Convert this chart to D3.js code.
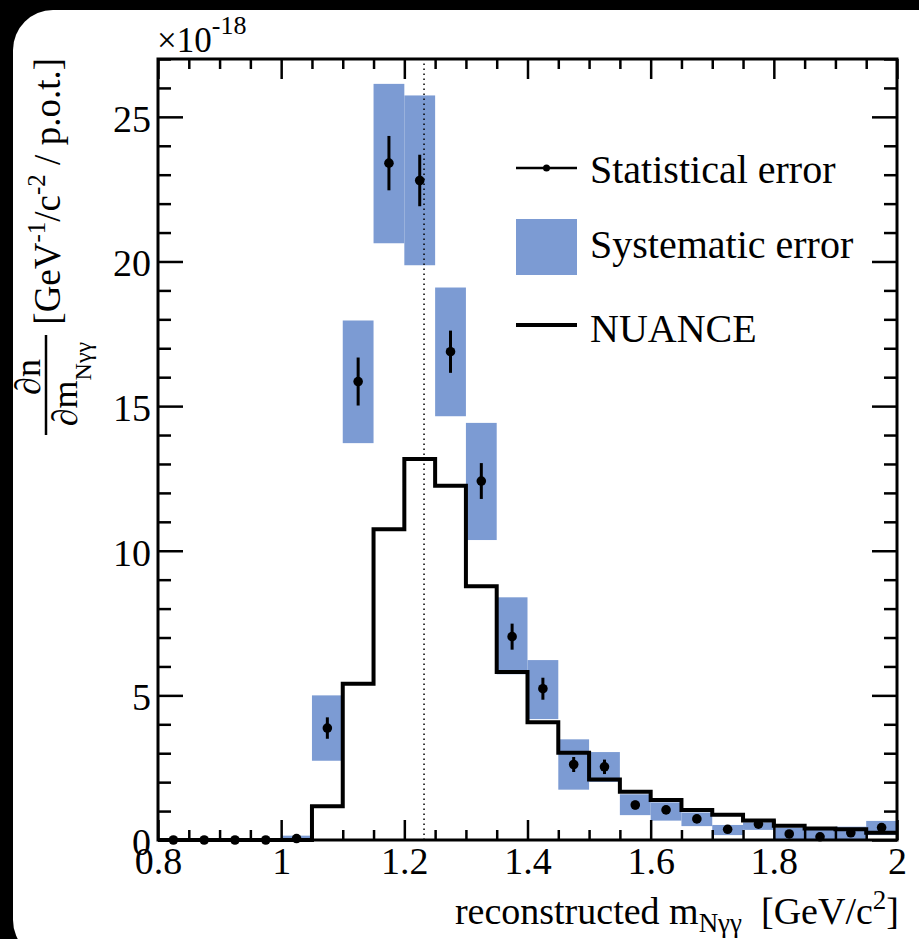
<!DOCTYPE html>
<html>
<head>
<meta charset="utf-8">
<script src="https://cdn.jsdelivr.net/npm/d3@7"></script>
<style>
  html, body { margin: 0; padding: 0; background: #000; }
  svg { display: block; }
  text { font-family: "Liberation Serif", "Times New Roman", serif; fill: #000; }
</style>
</head>
<body>
<svg id="chart" width="919" height="939"></svg>
<script>
// bin edges of the reconstructed mass histogram (GeV/c^2)
const binEdges = [0.80, 0.85, 0.90, 0.95, 1.00, 1.05, 1.10, 1.15, 1.20, 1.25, 1.30, 1.35,
  1.40, 1.45, 1.50, 1.55, 1.60, 1.65, 1.70, 1.75, 1.80, 1.85, 1.90, 1.95, 2.00];

// measured values (x1e-18) and errors, one per bin
const dataValues = [0, 0, 0, 0, 0.05, 3.87, 15.85, 23.40, 22.80, 16.88, 12.41, 7.03,
  5.23, 2.61, 2.53, 1.21, 1.04, 0.73, 0.37, 0.55, 0.21, 0.11, 0.25, 0.43];
const statErr = [0, 0, 0, 0, 0.05, 0.37, 0.83, 0.94, 0.89, 0.73, 0.62, 0.45,
  0.38, 0.26, 0.25, 0.15, 0.14, 0.12, 0.10, 0.10, 0.08, 0.06, 0.08, 0.10];
const sysLow = [null, null, null, null, 0, 2.74, 13.72, 20.63, 19.87, 14.65, 10.37, 5.73,
  4.18, 1.74, 2.01, 0.86, 0.67, 0.48, 0.17, 0.35, 0.00, 0.00, 0.02, 0.17];
const sysHigh = [null, null, null, null, 0.15, 5.00, 17.96, 26.14, 25.74, 19.10, 14.42, 8.39,
  6.22, 3.48, 3.04, 1.58, 1.30, 0.95, 0.52, 0.61, 0.42, 0.35, 0.46, 0.66];

// NUANCE prediction
const nuance = [0, 0, 0, 0, 0, 1.17, 5.40, 10.74, 13.17, 12.25, 8.77, 5.81,
  4.07, 3.02, 2.09, 1.67, 1.38, 1.04, 0.87, 0.67, 0.49, 0.40, 0.37, 0.25];

const xTicks = [0.8, 1.0, 1.2, 1.4, 1.6, 1.8, 2.0];
const xTickLabels = ["0.8", "1", "1.2", "1.4", "1.6", "1.8", "2"];
const yTicks = [0, 5, 10, 15, 20, 25];
const deltaMass = 1.232;
const legendItems = ["Statistical error", "Systematic error", "NUANCE"];

const sysColor = "#7c9bd3";
const svg = d3.select("#chart");

// card
svg.append("rect").attr("x", 13).attr("y", 10).attr("width", 950).attr("height", 950)
  .attr("rx", 40).attr("fill", "#fff");

const x = d3.scaleLinear().domain([0.8, 2.0]).range([158, 897]);
const y = d3.scaleLinear().domain([0, 27]).range([840, 59]);

const bins = dataValues.map((v, i) => ({
  lo: binEdges[i], hi: binEdges[i + 1], c: (binEdges[i] + binEdges[i + 1]) / 2,
  v, err: statErr[i], sLo: sysLow[i], sHi: sysHigh[i]
}));

// systematic boxes
svg.append("g").selectAll("rect")
  .data(bins.filter(d => d.sLo !== null))
  .join("rect")
  .attr("x", d => x(d.lo))
  .attr("width", d => x(d.hi) - x(d.lo))
  .attr("y", d => y(d.sHi))
  .attr("height", d => y(d.sLo) - y(d.sHi))
  .attr("fill", sysColor);

// delta resonance line
svg.append("line")
  .attr("x1", x(deltaMass)).attr("x2", x(deltaMass))
  .attr("y1", y(0)).attr("y2", y(27))
  .attr("stroke", "#000").attr("stroke-width", 1.5).attr("stroke-dasharray", "1.5,3.5");

// NUANCE histogram
const stepPts = nuance.map((v, i) => [binEdges[i], v]);
stepPts.push([binEdges[binEdges.length - 1], nuance[nuance.length - 1]]);
svg.append("path")
  .attr("d", d3.line().x(d => x(d[0])).y(d => y(d[1])).curve(d3.curveStepAfter)(stepPts))
  .attr("fill", "none").attr("stroke", "#000").attr("stroke-width", 4)
  .attr("stroke-linejoin", "miter");

// data points with statistical errors
const pts = svg.append("g");
pts.selectAll("line")
  .data(bins.filter(d => d.err > 0.12))
  .join("line")
  .attr("x1", d => x(d.c)).attr("x2", d => x(d.c))
  .attr("y1", d => y(d.v - d.err)).attr("y2", d => y(d.v + d.err))
  .attr("stroke", "#000").attr("stroke-width", 3);
pts.selectAll("circle")
  .data(bins)
  .join("circle")
  .attr("cx", d => x(d.c)).attr("cy", d => y(d.v)).attr("r", 4.8)
  .attr("fill", "#000");

// axes (ticks inside frame, ROOT style)
const xMinor = d3.range(0, 25).map(i => binEdges[i]).filter(v => !xTicks.some(t => Math.abs(t - v) < 1e-6));
const yMinor = d3.range(0, 28).filter(v => v % 5 !== 0);
const fmtX = d => xTickLabels[xTicks.indexOf(d)];

function styleAxis(g) {
  g.select(".domain").remove();
  g.selectAll("line").attr("stroke", "#000").attr("stroke-width", 2.5);
  g.selectAll("text").attr("font-size", 38).attr("font-family", "Liberation Serif");
}

svg.append("g").attr("transform", `translate(0,${y(0)})`)
  .call(d3.axisBottom(x).tickValues(xTicks).tickFormat(fmtX).tickSize(-20).tickPadding(7))
  .call(styleAxis);
svg.append("g").attr("transform", `translate(0,${y(0)})`)
  .call(d3.axisBottom(x).tickValues(xMinor).tickFormat("").tickSize(-10))
  .call(styleAxis);
svg.append("g").attr("transform", `translate(0,${y(27)})`)
  .call(d3.axisTop(x).tickValues(xTicks).tickFormat("").tickSize(-20))
  .call(styleAxis);
svg.append("g").attr("transform", `translate(0,${y(27)})`)
  .call(d3.axisTop(x).tickValues(xMinor).tickFormat("").tickSize(-10))
  .call(styleAxis);

svg.append("g").attr("transform", `translate(${x(0.8)},0)`)
  .call(d3.axisLeft(y).tickValues(yTicks).tickFormat(d3.format("d")).tickSize(-25).tickPadding(7))
  .call(styleAxis)
  .selectAll("text").attr("dy", "0.38em");
svg.append("g").attr("transform", `translate(${x(0.8)},0)`)
  .call(d3.axisLeft(y).tickValues(yMinor).tickFormat("").tickSize(-13))
  .call(styleAxis);
svg.append("g").attr("transform", `translate(${x(2.0)},0)`)
  .call(d3.axisRight(y).tickValues(yTicks).tickFormat("").tickSize(-25))
  .call(styleAxis);
svg.append("g").attr("transform", `translate(${x(2.0)},0)`)
  .call(d3.axisRight(y).tickValues(yMinor).tickFormat("").tickSize(-13))
  .call(styleAxis);

// frame
svg.append("rect")
  .attr("x", x(0.8)).attr("y", y(27))
  .attr("width", x(2.0) - x(0.8)).attr("height", y(0) - y(27))
  .attr("fill", "none").attr("stroke", "#000").attr("stroke-width", 3);

// exponent label
const expo = svg.append("text").attr("x", 157).attr("y", 52).attr("font-size", 35);
expo.append("tspan").text("\u00d710");
expo.append("tspan").attr("font-size", 26).attr("dy", -18).text("-18");

// x axis title
const xt = svg.append("text").attr("x", 899).attr("y", 924)
  .attr("text-anchor", "end").attr("font-size", 38);
xt.append("tspan").text("reconstructed m");
xt.append("tspan").attr("font-size", 27).attr("dy", 8).text("N\u03b3\u03b3");
xt.append("tspan").attr("dy", -8).text("\u00a0\u00a0[GeV/c");
xt.append("tspan").attr("font-size", 27).attr("dy", -15).text("2");
xt.append("tspan").attr("dy", 15).text("]");

// y axis title
const yt = svg.append("g").attr("transform", "rotate(-90)");
yt.append("text").attr("x", -377).attr("y", 40).attr("text-anchor", "middle")
  .attr("font-size", 36).text("\u2202n");
yt.append("line").attr("x1", -435).attr("x2", -335).attr("y1", 46).attr("y2", 46)
  .attr("stroke", "#000").attr("stroke-width", 2.5);
const den = yt.append("text").attr("x", -384).attr("y", 77).attr("text-anchor", "middle")
  .attr("font-size", 36);
den.append("tspan").text("\u2202m");
den.append("tspan").attr("font-size", 24).attr("dy", 14).text("N\u03b3\u03b3");
const unit = yt.append("text").attr("x", -58).attr("y", 60).attr("text-anchor", "end")
  .attr("font-size", 37);
unit.append("tspan").text("[GeV");
unit.append("tspan").attr("font-size", 25).attr("dy", -15).text("-1");
unit.append("tspan").attr("dy", 15).text("/c");
unit.append("tspan").attr("font-size", 25).attr("dy", -15).text("-2");
unit.append("tspan").attr("dy", 15).text(" / p.o.t.]");

// legend
const lx0 = 516, lx1 = 577, ltx = 590;
const leg = svg.append("g");
leg.append("line").attr("x1", lx0).attr("x2", lx1).attr("y1", 168).attr("y2", 168)
  .attr("stroke", "#000").attr("stroke-width", 2.5);
leg.append("circle").attr("cx", (lx0 + lx1) / 2).attr("cy", 168).attr("r", 3.5).attr("fill", "#000");
leg.append("rect").attr("x", lx0).attr("y", 219).attr("width", lx1 - lx0).attr("height", 56)
  .attr("fill", sysColor);
leg.append("line").attr("x1", lx0).attr("x2", lx1).attr("y1", 325).attr("y2", 325)
  .attr("stroke", "#000").attr("stroke-width", 4);
leg.selectAll("text").data(legendItems).join("text")
  .attr("x", ltx).attr("y", (d, i) => [183, 258, 342][i])
  .attr("font-size", 40).text(d => d);
</script>
</body>
</html>
